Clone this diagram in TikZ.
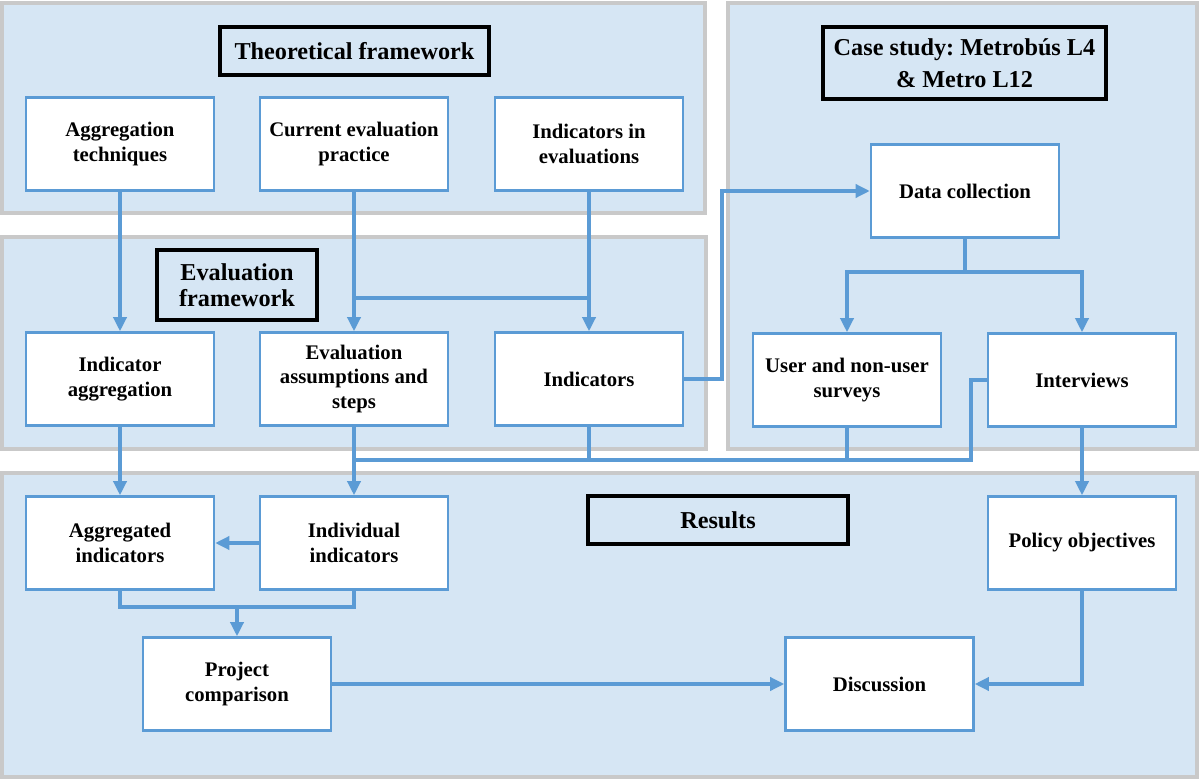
\documentclass[tikz,border=0pt]{standalone}
\usepackage{fontspec}
\setmainfont{Liberation Serif}
\usetikzlibrary{arrows.meta,positioning,calc}
\definecolor{panelfill}{HTML}{D6E6F4}
\definecolor{panelline}{HTML}{C9C9C9}
\definecolor{boxline}{HTML}{5B9BD5}
\frenchspacing

\begin{document}
\begin{tikzpicture}[x=0.02cm, y=-0.02cm,
  panel/.style={fill=panelfill, draw=panelline, line width=2pt},
  procbox/.style={draw=boxline, fill=white, line width=1.5pt, minimum width=3.76cm, minimum height=1.86cm, align=center, font=\bfseries\fontsize{11.8}{13.8}\selectfont},
  headbox/.style={draw=black, line width=2pt, align=center, font=\bfseries\fontsize{13.8}{17}\selectfont},
  link/.style={draw=boxline, line width=1.8pt},
  >={Triangle[length=8pt,width=7.5pt]}]
            \useasboundingbox (0,0) rectangle (1200,780);
            \draw[panel] (2,3) rectangle (705,213);
            \draw[panel] (2,237) rectangle (706,449);
            \draw[panel] (728,3) rectangle (1197,449);
            \draw[panel] (2,473) rectangle (1197,777);

            \node[headbox, minimum width=5.38cm, minimum height=0.96cm] (theory) at (354.5,51) {Theoretical framework};
            \node[headbox, minimum width=3.2cm, minimum height=1.4cm, font=\bfseries\fontsize{13.8}{15}\selectfont] (evalfw) at (237,285) {Evaluation\\framework};
            \node[headbox, minimum width=5.66cm, minimum height=1.44cm, font=\bfseries\fontsize{13.8}{18.5}\selectfont] (casestudy) at (964.5,63) {Case study: Metrobús L4\\\& Metro L12};
            \node[headbox, minimum width=5.2cm, minimum height=0.96cm] (results) at (718,520) {Results};

            \node[procbox] (aggtech) at (120,144) {Aggregation\\techniques};
            \node[procbox] (curprac) at (354,144) {Current evaluation\\practice};
            \node[procbox] (indeval) at (589,144) {Indicators in\\evaluations};
            \node[procbox] (indagg) at (120,379) {Indicator\\aggregation};
            \node[procbox] (evassum) at (354,379) {Evaluation\\assumptions and\\steps};
            \node[procbox] (indic) at (589,379) {Indicators};
            \node[procbox] (datacol) at (965,191) {Data collection};
            \node[procbox] (surveys) at (847,380) {User and non-user\\surveys};
            \node[procbox] (interv) at (1082,380) {Interviews};
            \node[procbox] (aggind) at (120,543) {Aggregated\\indicators};
            \node[procbox] (indind) at (354,543) {Individual\\indicators};
            \node[procbox] (policy) at (1082,543) {Policy objectives};
            \node[procbox] (projcomp) at (237,684) {Project\\comparison};
            \node[procbox] (discuss) at (879.5,684) {Discussion};

            \coordinate (topjoin) at (354,298);
            \coordinate (bend1) at (722,379);
            \coordinate (split) at (965,272);
            \coordinate (bend2) at (971,380);
            \coordinate (botjoin) at (354,460);
            \coordinate (resjoin) at (237,607);

            \draw[link, ->] (aggtech) -- (indagg);
            \draw[link, ->] (curprac) -- (evassum);
            \draw[link, ->] (indeval) -- (indic);
            \draw[link] (topjoin) -- (topjoin -| indeval);
            \draw[link, ->] (indic.east) -- (bend1) |- (datacol.west);
            \draw[link] (datacol) -- (split);
            \draw[link, ->] (split) -| (surveys.north);
            \draw[link, ->] (split) -| (interv.north);
            \draw[link, ->] (interv) -- (policy);
            \draw[link] (indic.south) |- (botjoin);
            \draw[link] (surveys.south) |- (botjoin);
            \draw[link] (interv.west) -- (bend2) |- (botjoin);
            \draw[link, ->] (evassum) -- (indind);
            \draw[link, ->] (indagg) -- (aggind);
            \draw[link, ->] (indind) -- (aggind);
            \draw[link] (aggind.south) |- (resjoin);
            \draw[link] (indind.south) |- (resjoin);
            \draw[link, ->] (resjoin) -- (projcomp.north);
            \draw[link, ->] (projcomp) -- (discuss);
            \draw[link, ->] (policy.south) |- (discuss.east);
        \end{tikzpicture}
\end{document}
